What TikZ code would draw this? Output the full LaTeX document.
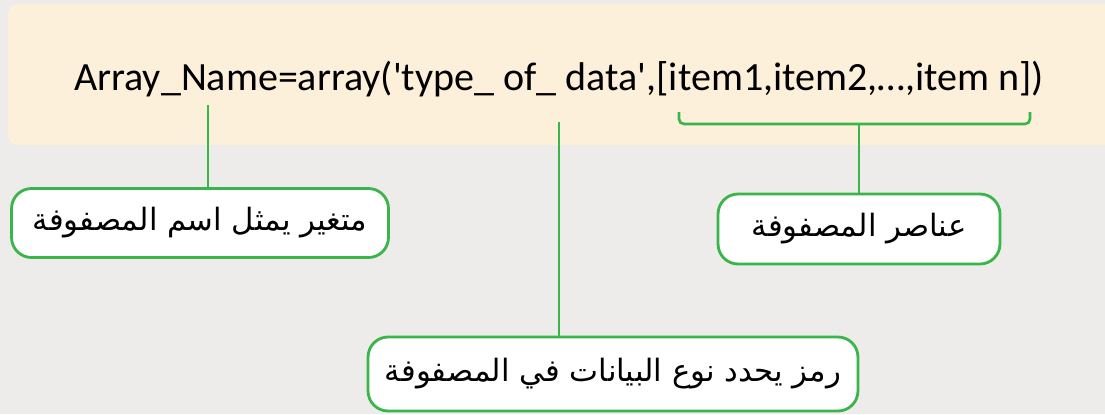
\documentclass[tikz,border=0pt]{standalone}
\usepackage{fontspec}
\newfontfamily\codefont{Carlito}
\newfontfamily\arabicfont[Script=Arabic]{DejaVu Sans}
\TeXXeTstate=1
\usetikzlibrary{positioning}
\definecolor{codegreen}{RGB}{57,181,74}
\definecolor{codecream}{RGB}{253,240,218}
\definecolor{pagegray}{RGB}{237,236,234}
\tikzset{
  labelbox/.style={draw=codegreen,line width=1.6pt,fill=white,rounded corners=.4cm,inner sep=0pt,
    font=\arabicfont\fontsize{17.5}{21}\selectfont},
  stem/.style={draw=codegreen,line width=1.5pt}
}

\begin{document}
\begin{tikzpicture}[x=.02cm,y=-.02cm]
    \fill[pagegray] (0,0) rectangle (1105,414);
    \useasboundingbox (0,0) rectangle (1105,414);
    \fill[codecream,rounded corners=.2cm] (8,4) rectangle (1130,145);

    \node[anchor=base,font=\codefont\fontsize{22.8}{26}\selectfont] (code) at (559,90)
      {Array\_Name=array('type\_ of\_ data',[item1,item2,…,item n])};

    \coordinate (nametip) at (208,105);
    \coordinate (typetip) at (559,122);
    \coordinate (itemsL) at (679,112);
    \coordinate (itemsR) at (1030,112);
    \coordinate (itemsmid) at (859,124);

    \node[labelbox,minimum width=7.54cm,minimum height=1.38cm] (namebox) at (200,223)
      {\beginR متغير يمثل اسم المصفوفة\endR};
    \node[labelbox,minimum width=5.64cm,minimum height=1.4cm] (itemsbox) at (859,229)
      {\beginR عناصر المصفوفة\endR};
    \node[labelbox,minimum width=9.8cm,minimum height=1.48cm] (typebox) at (613,374)
      {\beginR رمز يحدد نوع البيانات في المصفوفة\endR};

    \draw[stem] (nametip) -- (nametip |- namebox.north);
    \draw[stem] (typetip) -- (typetip |- typebox.north);
    \draw[stem,rounded corners=.1cm] (itemsL) |- (itemsmid) -| (itemsR);
    \draw[stem] (itemsmid) -- (itemsbox.north);
\end{tikzpicture}
\end{document}
